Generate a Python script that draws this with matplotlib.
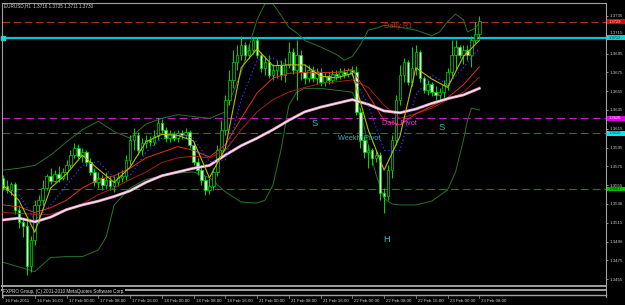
import matplotlib
matplotlib.use("Agg")
import matplotlib.pyplot as plt
import matplotlib.transforms as mtransforms
from matplotlib.patches import Rectangle
from matplotlib.lines import Line2D

plt.rcParams['lines.scale_dashes'] = False
plt.rcParams['font.family'] = ['Liberation Sans', 'DejaVu Sans']

# EURUSD H1 bars, 16 Feb 2011 08:00 -> 23 Feb 2011 08:00
opens = [1.3563, 1.3554, 1.3550, 1.3556, 1.3529, 1.3516, 1.3512, 1.3469, 1.3497, 1.3534,
         1.3539, 1.3552, 1.3565, 1.3559, 1.3567, 1.3563, 1.3569, 1.3576, 1.3587, 1.3595,
         1.3586, 1.3590, 1.3580, 1.3569, 1.3558, 1.3563, 1.3555, 1.3561, 1.3554, 1.3558,
         1.3563, 1.3565, 1.3582, 1.3603, 1.3608, 1.3592, 1.3600, 1.3603, 1.3601, 1.3607,
         1.3621, 1.3614, 1.3605, 1.3609, 1.3605, 1.3611, 1.3608, 1.3612, 1.3598, 1.3580,
         1.3571, 1.3561, 1.3550, 1.3554, 1.3569, 1.3592, 1.3614, 1.3646, 1.3667, 1.3686,
         1.3694, 1.3704, 1.3694, 1.3699, 1.3709, 1.3694, 1.3680, 1.3686, 1.3672, 1.3678,
         1.3683, 1.3672, 1.3683, 1.3697, 1.3678, 1.3694, 1.3675, 1.3669, 1.3678, 1.3669,
         1.3675, 1.3665, 1.3671, 1.3667, 1.3673, 1.3671, 1.3675, 1.3673, 1.3677, 1.3675,
         1.3633, 1.3603, 1.3590, 1.3592, 1.3584, 1.3587, 1.3547, 1.3543, 1.3571, 1.3603,
         1.3646, 1.3672, 1.3686, 1.3665, 1.3680, 1.3697, 1.3669, 1.3656, 1.3663, 1.3654,
         1.3651, 1.3654, 1.3662, 1.3675, 1.3694, 1.3702, 1.3694, 1.3699, 1.3694, 1.3709,
         1.3716]
highs = [1.3566, 1.3560, 1.3558, 1.3558, 1.3534, 1.3520, 1.3519, 1.3501, 1.3539, 1.3545,
         1.3561, 1.3567, 1.3573, 1.3571, 1.3575, 1.3573, 1.3582, 1.3592, 1.3600, 1.3599,
         1.3595, 1.3592, 1.3584, 1.3573, 1.3569, 1.3566, 1.3569, 1.3565, 1.3565, 1.3569,
         1.3571, 1.3587, 1.3608, 1.3616, 1.3612, 1.3605, 1.3608, 1.3607, 1.3614, 1.3626,
         1.3625, 1.3617, 1.3614, 1.3613, 1.3614, 1.3614, 1.3616, 1.3614, 1.3601, 1.3584,
         1.3576, 1.3565, 1.3563, 1.3573, 1.3598, 1.3624, 1.3651, 1.3678, 1.3699, 1.3704,
         1.3714, 1.3707, 1.3705, 1.3713, 1.3713, 1.3697, 1.3692, 1.3694, 1.3684, 1.3688,
         1.3688, 1.3690, 1.3707, 1.3701, 1.3709, 1.3699, 1.3684, 1.3683, 1.3682, 1.3680,
         1.3680, 1.3675, 1.3675, 1.3678, 1.3678, 1.3680, 1.3680, 1.3680, 1.3682, 1.3682,
         1.3637, 1.3607, 1.3598, 1.3595, 1.3592, 1.3590, 1.3552, 1.3576, 1.3608, 1.3651,
         1.3683, 1.3690, 1.3688, 1.3702, 1.3704, 1.3699, 1.3671, 1.3667, 1.3665, 1.3660,
         1.3658, 1.3667, 1.3680, 1.3709, 1.3709, 1.3704, 1.3704, 1.3704, 1.3714, 1.3729,
         1.3735]
lows = [1.3550, 1.3547, 1.3545, 1.3524, 1.3509, 1.3500, 1.3459, 1.3463, 1.3491, 1.3515,
        1.3534, 1.3550, 1.3556, 1.3558, 1.3558, 1.3561, 1.3561, 1.3573, 1.3584, 1.3582,
        1.3580, 1.3575, 1.3566, 1.3554, 1.3552, 1.3550, 1.3551, 1.3550, 1.3548, 1.3554,
        1.3558, 1.3561, 1.3576, 1.3592, 1.3587, 1.3587, 1.3595, 1.3597, 1.3598, 1.3603,
        1.3611, 1.3601, 1.3601, 1.3602, 1.3601, 1.3604, 1.3605, 1.3595, 1.3576, 1.3566,
        1.3555, 1.3545, 1.3546, 1.3550, 1.3565, 1.3587, 1.3608, 1.3640, 1.3658, 1.3678,
        1.3688, 1.3688, 1.3690, 1.3695, 1.3690, 1.3675, 1.3672, 1.3669, 1.3667, 1.3669,
        1.3667, 1.3665, 1.3680, 1.3673, 1.3646, 1.3667, 1.3663, 1.3665, 1.3665, 1.3663,
        1.3661, 1.3661, 1.3663, 1.3664, 1.3667, 1.3668, 1.3669, 1.3670, 1.3671, 1.3630,
        1.3595, 1.3584, 1.3573, 1.3576, 1.3580, 1.3539, 1.3525, 1.3539, 1.3563, 1.3598,
        1.3640, 1.3665, 1.3662, 1.3661, 1.3672, 1.3665, 1.3653, 1.3651, 1.3650, 1.3646,
        1.3646, 1.3648, 1.3656, 1.3671, 1.3678, 1.3690, 1.3684, 1.3688, 1.3681, 1.3706,
        1.3711]
closes = [1.3552, 1.3550, 1.3556, 1.3529, 1.3516, 1.3512, 1.3469, 1.3497, 1.3534, 1.3539,
          1.3552, 1.3565, 1.3559, 1.3567, 1.3563, 1.3569, 1.3576, 1.3587, 1.3595, 1.3586,
          1.3590, 1.3580, 1.3569, 1.3558, 1.3563, 1.3555, 1.3561, 1.3554, 1.3558, 1.3563,
          1.3565, 1.3582, 1.3603, 1.3608, 1.3592, 1.3600, 1.3603, 1.3601, 1.3607, 1.3621,
          1.3614, 1.3605, 1.3609, 1.3605, 1.3611, 1.3608, 1.3612, 1.3598, 1.3580, 1.3571,
          1.3561, 1.3550, 1.3554, 1.3569, 1.3592, 1.3614, 1.3646, 1.3667, 1.3686, 1.3694,
          1.3704, 1.3694, 1.3699, 1.3709, 1.3694, 1.3680, 1.3686, 1.3672, 1.3678, 1.3683,
          1.3672, 1.3683, 1.3697, 1.3678, 1.3694, 1.3675, 1.3669, 1.3678, 1.3669, 1.3675,
          1.3665, 1.3671, 1.3667, 1.3673, 1.3671, 1.3675, 1.3673, 1.3677, 1.3675, 1.3633,
          1.3603, 1.3590, 1.3592, 1.3584, 1.3587, 1.3547, 1.3543, 1.3571, 1.3603, 1.3646,
          1.3672, 1.3686, 1.3665, 1.3680, 1.3697, 1.3669, 1.3656, 1.3663, 1.3654, 1.3651,
          1.3654, 1.3662, 1.3675, 1.3694, 1.3702, 1.3694, 1.3699, 1.3694, 1.3709, 1.3716,
          1.3730]

# indicator lines, read every 4 bars
ma_bars = [0, 4, 8, 12, 16, 20, 24, 28, 32, 36, 40, 44, 48, 52, 56, 60,
           64, 68, 72, 76, 80, 84, 88, 92, 96, 100, 104, 108, 112, 116, 120]
ma_slow = [1.3518, 1.3520, 1.3516, 1.3521, 1.3529, 1.3534, 1.3538, 1.3543, 1.3549, 1.3558,
           1.3565, 1.3569, 1.3573, 1.3576, 1.3587, 1.3597, 1.3605, 1.3614, 1.3624, 1.3633,
           1.3638, 1.3642, 1.3646, 1.3641, 1.3634, 1.3632, 1.3636, 1.3642, 1.3647, 1.3651,
           1.3658]
ma_red1 = [1.3534, 1.3532, 1.3526, 1.3531, 1.3539, 1.3552, 1.3561, 1.3565, 1.3573, 1.3584,
           1.3590, 1.3596, 1.3592, 1.3585, 1.3598, 1.3626, 1.3653, 1.3669, 1.3674, 1.3675,
           1.3675, 1.3675, 1.3678, 1.3651, 1.3624, 1.3619, 1.3631, 1.3639, 1.3648, 1.3662,
           1.3681]
ma_red2 = [1.3526, 1.3525, 1.3524, 1.3524, 1.3529, 1.3535, 1.3545, 1.3552, 1.3561, 1.3569,
           1.3579, 1.3584, 1.3586, 1.3584, 1.3592, 1.3614, 1.3633, 1.3646, 1.3654, 1.3659,
           1.3663, 1.3665, 1.3667, 1.3659, 1.3640, 1.3626, 1.3631, 1.3637, 1.3646, 1.3654,
           1.3670]
ma_fast = [1.3555, 1.3539, 1.3505, 1.3552, 1.3567, 1.3587, 1.3572, 1.3558, 1.3574, 1.3601,
           1.3609, 1.3608, 1.3602, 1.3563, 1.3594, 1.3680, 1.3700, 1.3682, 1.3683, 1.3683,
           1.3671, 1.3669, 1.3674, 1.3614, 1.3571, 1.3607, 1.3680, 1.3668, 1.3659, 1.3692,
           1.3709]
ma_blue = [1.3555, 1.3545, 1.3518, 1.3534, 1.3555, 1.3576, 1.3580, 1.3563, 1.3565, 1.3590,
           1.3605, 1.3609, 1.3605, 1.3580, 1.3582, 1.3646, 1.3688, 1.3690, 1.3682, 1.3682,
           1.3675, 1.3671, 1.3673, 1.3640, 1.3592, 1.3592, 1.3651, 1.3672, 1.3662, 1.3680,
           1.3701]

bb_up_bars = [0, 4, 8, 12, 16, 20, 24, 28, 32, 36, 40, 44, 48, 52, 56, 60, 64, 66, 68, 70,
              72, 74, 76, 80, 84, 86, 88, 90, 92, 94, 96, 100, 104, 108, 110, 112, 114, 116,
              117, 119, 120]
bb_up = [1.3571, 1.3573, 1.3576, 1.3587, 1.3601, 1.3614, 1.3623, 1.3612, 1.3605, 1.3620,
         1.3626, 1.3630, 1.3628, 1.3626, 1.3633, 1.3675, 1.3731, 1.3748, 1.3748, 1.3736,
         1.3723, 1.3717, 1.3709, 1.3702, 1.3694, 1.3688, 1.3692, 1.3704, 1.3720, 1.3722,
         1.3725, 1.3723, 1.3720, 1.3714, 1.3718, 1.3729, 1.3737, 1.3731, 1.3718, 1.3722,
         1.3728]
bb_low_bars = [0, 4, 8, 12, 16, 20, 24, 26, 28, 32, 36, 40, 44, 48, 52, 56, 60, 64, 66, 68,
               70, 72, 74, 76, 80, 84, 88, 90, 92, 94, 96, 98, 100, 104, 108, 112, 114, 116,
               117, 118, 120]
bb_low = [1.3473, 1.3468, 1.3463, 1.3478, 1.3479, 1.3479, 1.3486, 1.3500, 1.3534, 1.3552,
          1.3561, 1.3565, 1.3568, 1.3569, 1.3563, 1.3548, 1.3537, 1.3536, 1.3539, 1.3555,
          1.3592, 1.3640, 1.3654, 1.3658, 1.3658, 1.3656, 1.3654, 1.3635, 1.3598, 1.3566,
          1.3541, 1.3535, 1.3534, 1.3534, 1.3538, 1.3550, 1.3569, 1.3603, 1.3624, 1.3637,
          1.3635]

# horizontal levels
daily_r1 = 1.3729
level_line = 1.3712
daily_pivot = 1.3626
weekly_pivot = 1.3610
support_line = 1.3551

price_ticks = [1.3735, 1.3715, 1.3695, 1.3675, 1.3655, 1.3635, 1.3615, 1.3595,
               1.3575, 1.3555, 1.3535, 1.3515, 1.3495, 1.3475, 1.3455]
price_tick_labels = ["1.3735", "1.3715", "1.3695", "1.3675", "1.3655", "1.3635", "1.3615",
                     "1.3595", "1.3575", "1.3555", "1.3536", "1.3515", "1.3496", "1.3475",
                     "1.3455"]
date_bars = [0, 8, 16, 24, 32, 40, 48, 56, 64, 72, 80, 88, 96, 104, 112, 120]
date_labels = ["16 Feb 2011", "16 Feb 16:00", "17 Feb 00:00", "17 Feb 08:00", "17 Feb 16:00",
               "18 Feb 00:00", "18 Feb 08:00", "18 Feb 16:00", "21 Feb 00:00", "21 Feb 08:00",
               "21 Feb 16:00", "22 Feb 00:00", "22 Feb 08:00", "22 Feb 16:00", "23 Feb 00:00",
               "23 Feb 08:00"]

W, H = 625, 305
GREEN = "#00dc00"
GRAY = "#a0a0a0"


def fx(px):
    return px / W


def fy(py):
    return 1 - py / H


fig = plt.figure(figsize=(W / 100, H / 100), dpi=100, facecolor="black")
ax = fig.add_axes([fx(2), fy(285), (606 - 2) / W, (285 - 3) / H])
ax.set_facecolor("black")
ax.set_xlim(-0.25, 151.9)
ax.set_ylim(1.34488, 1.37488)

# levels
ax.axhline(daily_r1, color="#a8381a", lw=0.8, dashes=(5.5, 2.5), zorder=1)
ax.axhline(level_line, color="#00c8d2", lw=1.6, zorder=1)
ax.plot([0], [level_line], marker="s", ms=2.2, color="#00e0e8", clip_on=False, zorder=1)
ax.axhline(daily_pivot, color="#c020c0", lw=0.8, dashes=(5.5, 3), zorder=1)
ax.axhline(weekly_pivot, color="#2e6e2e", lw=0.8, dashes=(5.5, 3), zorder=1)
ax.axhline(support_line, color="#2e6e2e", lw=0.8, dashes=(5.5, 3), zorder=1)

# bollinger bands
ax.plot(bb_up_bars, bb_up, color="#2a722a", lw=0.7, zorder=2)
ax.plot(bb_low_bars, bb_low, color="#2a722a", lw=0.7, zorder=2)

# candles
for i in range(len(closes)):
    o, h, l, c = opens[i], highs[i], lows[i], closes[i]
    ax.vlines(i, l, h, color=GREEN, lw=0.7, zorder=3)
    face = "black" if c > o else "#d6ffd6"
    body = max(abs(c - o), 0.00004)
    ax.add_patch(Rectangle((i - 0.32, min(o, c)), 0.64, body, facecolor=face,
                           edgecolor=GREEN, lw=0.5, zorder=4))

# moving averages
ax.plot(ma_bars, ma_red2, color="#a82010", lw=0.7, zorder=5)
ax.plot(ma_bars, ma_red1, color="#e03418", lw=0.7, zorder=5)
ax.plot(ma_bars, ma_slow, color="#e8a0c8", lw=2.0, zorder=5)
ax.plot(ma_bars, ma_slow, color="#fff2fa", lw=0.7, zorder=5)
ax.plot(ma_bars, ma_blue, color="#3a3aff", lw=0.8, ls=":", zorder=5)
ax.plot(ma_bars, ma_fast, color="#bcbc00", lw=0.8, zorder=5)

# axes frame
for side in ["left", "top", "right"]:
    ax.spines[side].set_color(GRAY)
    ax.spines[side].set_linewidth(0.8)
ax.spines["bottom"].set_visible(False)
ax.set_xticks([])
ax.yaxis.tick_right()
ax.set_yticks(price_ticks, price_tick_labels)
ax.tick_params(axis="y", colors="#c8c8c8", labelsize=3.2, length=1.5, width=0.5, pad=1.2)
for lbl in ax.get_yticklabels():
    if lbl.get_text() == "1.3715":
        lbl.set_verticalalignment("bottom")  # sits just above the cyan price box

# price boxes on the right
trans_y = mtransforms.blended_transform_factory(fig.transFigure, ax.transData)
boxes = [(daily_r1, "#e00000", "#ffd0d0"), (level_line, "#00d8e0", "#003030"),
         (daily_pivot, "#e000e0", "#ffe0ff"), (weekly_pivot, "#00e8e8", "#003030"),
         (support_line, "#00c000", "#002000")]
for val, col, tcol in boxes:
    ax.add_patch(Rectangle((fx(607), val - 0.00024), fx(18), 0.00048, transform=trans_y,
                           facecolor=col, edgecolor="none", clip_on=False, zorder=10))
    ax.text(fx(609), val, f"{val:.4f}", transform=trans_y, fontsize=3.0, color=tcol,
            va="center", ha="left", clip_on=False, zorder=11)

# labels on chart
fig.text(fx(4), fy(5.5), "EURUSD,H1  1.3716 1.3735 1.3711 1.3730", fontsize=3.3,
         color="#d0d0d0", va="center")
fig.text(fx(384), fy(26), "Daily R1", fontsize=5.4, color="#cc2222", va="center")
fig.text(fx(382), fy(123.5), "Daily Pivot", fontsize=5.3, color="#e030e0", va="center")
fig.text(fx(338), fy(138.5), "Weekly Pivot", fontsize=5.3, color="#22b8b8", va="center")
fig.text(fx(315), fy(123.5), "S", fontsize=6.8, color="#22c0c0", va="center", ha="center")
fig.text(fx(442), fy(128), "S", fontsize=6.8, color="#22c0c0", va="center", ha="center")
fig.text(fx(386.5), fy(240), "H", fontsize=6.8, color="#22c0c0", va="center", ha="center")

# bottom separator and copyright strip
for py, lw in [(286, 1.4), (290, 1.4), (294.5, 1.0)]:
    fig.add_artist(Line2D([fx(2), fx(606)], [fy(py), fy(py)], color=GRAY, lw=lw))
fig.add_artist(Line2D([fx(2), fx(2)], [fy(285), fy(297)], color=GRAY, lw=0.8))
fig.add_artist(Line2D([fx(606), fx(606)], [fy(285), fy(297)], color=GRAY, lw=0.8))
fig.text(fx(3), fy(291.5), "FXPRO Group, (C) 2001-2010 MetaQuotes Software Corp.", fontsize=3.3,
         color="#e0e0e0", va="center",
         bbox=dict(facecolor="black", edgecolor="none", pad=0.3))

# time axis
trans_x = mtransforms.blended_transform_factory(ax.transData, fig.transFigure)
label_tr = mtransforms.offset_copy(trans_x, fig=fig, x=2, units="dots")
for b, lab in zip(date_bars, date_labels):
    ax.plot([b, b], [fy(295), fy(298)], color=GRAY, lw=0.5, transform=trans_x, clip_on=False)
    ax.text(b, fy(300.5), lab, transform=label_tr, fontsize=3.2, color="#d0d0d0",
            va="center", ha="left", clip_on=False)

fig.savefig("out.png", dpi=100, facecolor="black")
